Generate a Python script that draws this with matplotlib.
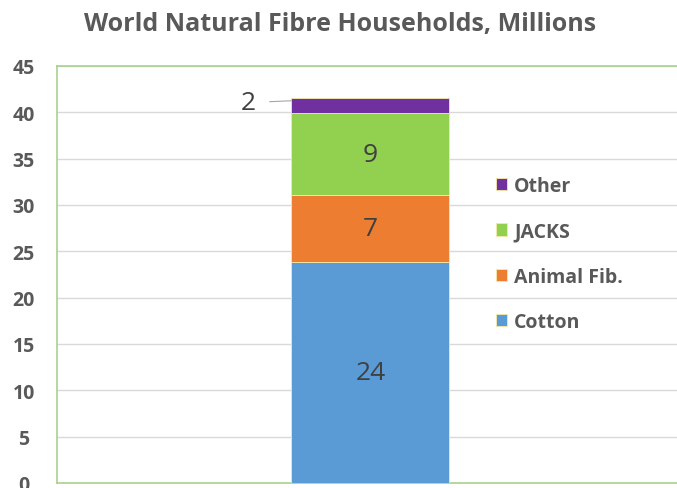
import numpy as np
import matplotlib
matplotlib.use("Agg")
import matplotlib.pyplot as plt

# values (labels show rounded numbers)
series = ["Cotton", "Animal Fib.", "JACKS", "Other"]
values = [23.9, 7.2, 8.8, 1.7]
colors = ["#5B9BD5", "#ED7D31", "#92D050", "#7030A0"]
yticks = list(range(0, 50, 5))

plt.rcParams["font.family"] = ["Open Sans", "DejaVu Sans"]

fig = plt.figure(figsize=(6.77, 4.89), dpi=100)
ax = fig.add_axes([57 / 677, 1 - 484 / 489, 1 - 57 / 677 + 0.01, (484 - 67) / 489])

bottom = 0
bars = []
for name, v, c in zip(series, values, colors):
    b = ax.bar(0, v, bottom=bottom, width=0.504, color=c, label=name,
               edgecolor="#F5E9A8", linewidth=0.6, zorder=3)
    bars.append(b)
    bottom += v

for b in bars[:3]:
    ax.bar_label(b, fmt="%.0f", label_type="center", fontsize=19, color="#404040")

# small top segment gets its label off to the left with a leader line
top = sum(values)
ax.annotate("%.0f" % values[-1], xy=(-0.252, top - values[-1] / 2 + 0.5),
            xytext=(-0.39, top - values[-1] / 2 + 0.3), fontsize=19, color="#404040",
            ha="center", va="center",
            arrowprops=dict(arrowstyle="-", color="#A6A6A6", lw=0.8, shrinkA=8, shrinkB=0))

ax.set_ylim(0, 45)
ax.set_xlim(-1, 1)
ax.set_yticks(yticks)
ax.set_xticks([])
ax.grid(axis="y", color="#D9D9D9", lw=1, zorder=0)
for s in ["left", "top", "bottom"]:
    ax.spines[s].set_color("#A9D18E")
    ax.spines[s].set_linewidth(1.2)
ax.spines["right"].set_visible(False)
ax.tick_params(axis="y", length=0, pad=24, labelsize=14, labelcolor="#595959")
for t in ax.get_yticklabels():
    t.set_fontweight("bold")
    t.set_horizontalalignment("center")

h, l = ax.get_legend_handles_labels()
leg = ax.legend(h[::-1], l[::-1], loc="center left",
                bbox_to_anchor=(478 / 677, 1 - 255 / 489), bbox_transform=fig.transFigure,
                frameon=False, fontsize=14, labelspacing=1.3, handlelength=0.6,
                handleheight=0.6, handletextpad=0.35)
for t in leg.get_texts():
    t.set_color("#595959")
    t.set_fontweight("bold")

fig.text(340 / 677, 1 - 25 / 489, "World Natural Fibre Households, Millions",
         ha="center", va="center", fontsize=18, fontweight="bold", color="#595959")

fig.savefig("out.png", dpi=100)
